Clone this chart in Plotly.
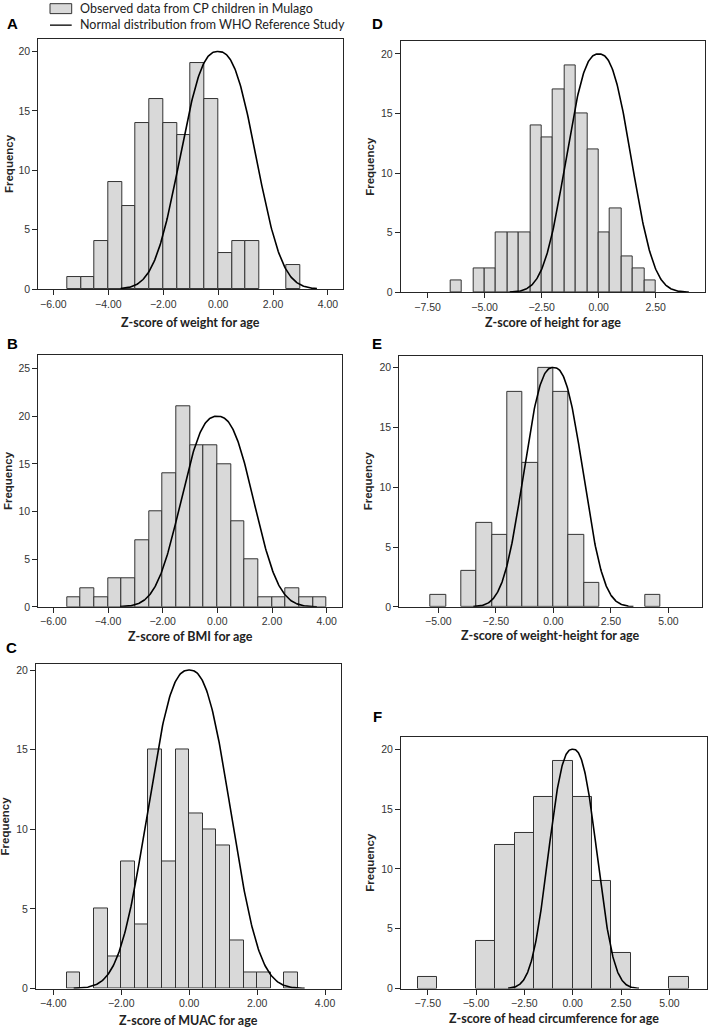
import numpy as np
import plotly.graph_objects as go

W, H = 709, 1033

# ---------------- data ----------------
A_counts = [1, 1, 4, 9, 7, 14, 16, 14, 13, 19, 16, 3, 4, 4, 0, 0, 2]
A_bin_start, A_bin_width = -5.5, 0.5

B_counts = [1, 2, 1, 3, 3, 7, 10, 14, 21, 17, 17, 15, 9, 5, 1, 1, 2, 1, 1]
B_bin_start, B_bin_width = -5.5, 0.5

C_counts = [1, 0, 5, 2, 8, 4, 15, 8, 15, 11, 10, 9, 3, 1, 1, 0, 1]
C_bin_start, C_bin_width = -3.6, 0.4

D_counts = [1, 0, 2, 2, 5, 5, 5, 14, 13, 17, 19, 15, 12, 5, 7, 3, 2, 1]
D_bin_start, D_bin_width = -6.5, 0.5

E_counts = [1, 0, 3, 7, 6, 18, 12, 20, 18, 6, 2, 0, 0, 0, 1]
E_bin_start, E_bin_width = -16 / 3, 2 / 3

F_counts = [1, 0, 0, 4, 12, 13, 16, 19, 16, 9, 3, 0, 0, 1]
F_bin_start, F_bin_width = -8.0, 1.0

# reference normal curve (WHO): peak height, spread, extent
curve_peak = [20, 20, 20, 20, 20, 20]
curve_sd = [1.30, 1.25, 1.15, 1.35, 1.22, 1.19]
curve_lo = [-3.55, -3.56, -3.4, -3.9, -3.48, -3.34]
curve_hi = [3.6, 3.64, 3.4, 3.95, 3.48, 3.43]

x_titles = ["Z-score of weight for age", "Z-score of BMI for age", "Z-score of MUAC for age",
            "Z-score of height for age", "Z-score of weight-height for age",
            "Z-score of head circumference for age"]
letters = ["A", "B", "C", "D", "E", "F"]

x_ticks = [[-6, -4, -2, 0, 2, 4], [-6, -4, -2, 0, 2, 4], [-4, -2, 0, 2, 4],
           [-7.5, -5, -2.5, 0, 2.5], [-5, -2.5, 0, 2.5, 5], [-7.5, -5, -2.5, 0, 2.5, 5]]
x_ticklabels = [["\u22126.00", "\u22124.00", "\u22122.00", "0.00", "2.00", "4.00"],
                ["\u22126.00", "\u22124.00", "\u22122.00", "0.00", "2.00", "4.00"],
                ["\u22124.00", "\u22122.00", "0.00", "2.00", "4.00"],
                ["\u22127.50", "\u22125.00", "\u22122.50", "0.00", "2.50"],
                ["\u22125.00", "\u22122.50", "0.00", "2.50", "5.00"],
                ["\u22127.50", "\u22125.00", "\u22122.50", "0.00", "2.50", "5.00"]]
y_ticks = [[0, 5, 10, 15, 20], [0, 5, 10, 15, 20, 25], [0, 5, 10, 15, 20],
           [0, 5, 10, 15, 20], [0, 5, 10, 15, 20], [0, 5, 10, 15, 20]]

legend_labels = ["Observed data from CP children in Mulago",
                 "Normal distribution from WHO Reference Study"]

# ---------------- layout geometry (pixels) ----------------
rects = [  # left, right, top, bottom
    (38.3, 343.0, 38.3, 290.0),
    (38.3, 341.7, 356.7, 610.0),
    (36.0, 341.0, 668.0, 994.3),
    (400.7, 705.0, 40.7, 293.3),
    (399.3, 701.7, 357.3, 610.0),
    (401.0, 706.7, 741.0, 994.3),
]
x_ranges = [(-6.55, 4.55), (-6.55, 4.55), (-4.51, 4.47), (-8.68, 4.66), (-6.70, 6.45), (-8.88, 6.93)]
y_ranges = [(0, 21.05), (0, 26.4), (0, 20.35), (0, 21.05), (0, 20.97), (0, 21.02)]
ytitle_x = [9, 8, 5, 370, 368, 370]
xtitle_y = [323.5, 640, 1026, 323.5, 639, 1024]
letter_pos = [(12.5, 23), (12, 344.5), (11.5, 651), (377.5, 22.5), (377, 345), (378, 720.5)]

counts = [A_counts, B_counts, C_counts, D_counts, E_counts, F_counts]
starts = [A_bin_start, B_bin_start, C_bin_start, D_bin_start, E_bin_start, F_bin_start]
widths = [A_bin_width, B_bin_width, C_bin_width, D_bin_width, E_bin_width, F_bin_width]

FG = "#262626"
BAR_FILL = "#d9d9d9"
TICK_FONT = dict(family="Liberation Sans, Arial", size=10.5, color="#333333")
TITLE_FONT = dict(family="Lato, Carlito, Calibri", size=12.5, color="#222222")

fig = go.Figure()
annotations = []
shapes = []

for i in range(6):
    ax = "" if i == 0 else str(i + 1)
    xref, yref = "x" + ax, "y" + ax
    c = np.array(counts[i], dtype=float)
    centers = starts[i] + widths[i] * (np.arange(len(c)) + 0.5)
    keep = c > 0
    fig.add_trace(go.Bar(
        x=centers[keep], y=c[keep], width=widths[i],
        marker=dict(color=BAR_FILL, line=dict(color="#333333", width=1)),
        xaxis=xref, yaxis=yref, showlegend=False, hoverinfo="x+y"))
    xs = np.linspace(curve_lo[i], curve_hi[i], 300)
    ys = curve_peak[i] * np.exp(-0.5 * np.abs(xs / curve_sd[i]) ** 2.5)
    fig.add_trace(go.Scatter(
        x=xs, y=ys, mode="lines", line=dict(color="black", width=1.6),
        xaxis=xref, yaxis=yref, showlegend=False, hoverinfo="skip"))

    l, r, t, b = rects[i]
    axis_common = dict(showline=True, mirror=True, linecolor=FG, linewidth=1,
                       ticks="outside", ticklen=5, tickwidth=1, tickcolor=FG,
                       showgrid=False, zeroline=False, tickfont=TICK_FONT,
                       fixedrange=True)
    fig.layout["xaxis" + ax] = dict(
        domain=[l / W, r / W], anchor=yref, range=list(x_ranges[i]),
        tickmode="array", tickvals=x_ticks[i], ticktext=x_ticklabels[i], **axis_common)
    fig.layout["yaxis" + ax] = dict(
        domain=[1 - b / H, 1 - t / H], anchor=xref, range=list(y_ranges[i]),
        tickmode="array", tickvals=y_ticks[i], ticktext=[str(v) for v in y_ticks[i]],
        **axis_common)

    # axis titles
    annotations.append(dict(
        text="<b>" + x_titles[i] + "</b>", x=(l + r) / 2 / W, y=1 - xtitle_y[i] / H,
        xref="paper", yref="paper", xanchor="center", yanchor="middle",
        showarrow=False, font=TITLE_FONT))
    annotations.append(dict(
        text="<b>Frequency</b>", x=ytitle_x[i] / W, y=1 - (t + b) / 2 / H,
        xref="paper", yref="paper", xanchor="center", yanchor="middle", textangle=-90,
        showarrow=False, font=dict(family="Liberation Sans, Arial", size=11.5, color=FG)))
    lx, ly = letter_pos[i]
    annotations.append(dict(
        text="<b>" + letters[i] + "</b>", x=lx / W, y=1 - ly / H,
        xref="paper", yref="paper", xanchor="center", yanchor="middle",
        showarrow=False, font=dict(family="Liberation Sans, Arial", size=15, color="black")))

# legend (drawn manually)
shapes.append(dict(type="rect", xref="paper", yref="paper",
                   x0=50 / W, x1=71.7 / W, y0=1 - 12.7 / H, y1=1 - 2.7 / H,
                   fillcolor=BAR_FILL, line=dict(color="#333333", width=1)))
shapes.append(dict(type="line", xref="paper", yref="paper",
                   x0=50 / W, x1=71.7 / W, y0=1 - 24.3 / H, y1=1 - 24.3 / H,
                   line=dict(color="black", width=1.3)))
for txt, yy in zip(legend_labels, [7.5, 24.0]):
    annotations.append(dict(
        text=txt, x=78 / W, y=1 - yy / H, xref="paper", yref="paper",
        xanchor="left", yanchor="middle", showarrow=False,
        font=dict(family="Lato, Carlito, Calibri", size=12.5, color="#222222")))

fig.update_layout(
    width=W, height=H, margin=dict(l=0, r=0, t=0, b=0),
    paper_bgcolor="white", plot_bgcolor="white", bargap=0,
    annotations=annotations, shapes=shapes, showlegend=False)

fig.write_html("out.html", config={"displayModeBar": False},
               post_script="document.body.style.margin='0px';"
                           "document.documentElement.style.overflow='hidden';")
